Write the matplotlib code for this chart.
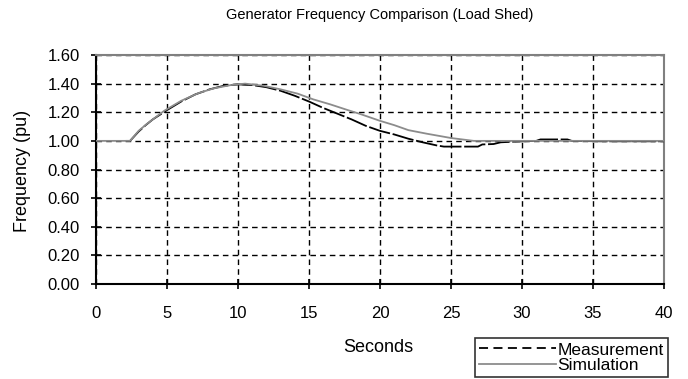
import numpy as np
import matplotlib
matplotlib.use("Agg")
import matplotlib.pyplot as plt

plt.rcParams['font.family'] = ['Liberation Sans', 'DejaVu Sans']

# Simulation trace (grey)
t_sim = [0, 2.4, 3.0, 3.6, 4.8, 6.0, 7.2, 8.3, 9.5, 10.5, 11.8, 13.0, 14.2,
         15.3, 16.5, 17.7, 18.6, 20.0, 21.0, 22.0, 23.3, 25.0, 26.6, 28.0, 40.0]
f_sim = [1.0, 1.0, 1.07, 1.12, 1.21, 1.28, 1.333, 1.367, 1.39, 1.40, 1.385, 1.36, 1.33,
         1.29, 1.255, 1.216, 1.188, 1.14, 1.11, 1.075, 1.05, 1.02, 1.0, 1.0, 1.0]

# Measurement trace (black)
t_meas = [2.1, 2.4, 3.0, 3.5, 4.0, 5.0, 6.0, 7.0, 8.0, 9.0, 10.0, 11.0, 12.0,
          13.0, 14.0, 15.0, 16.0, 17.0, 18.0, 19.0, 20.0, 21.0, 22.0, 23.0, 24.0,
          24.5, 26.9, 27.2, 28.0, 28.5, 29.5, 31.0, 31.3, 33.2, 33.5, 35.5, 40.0]
f_meas = [1.0, 1.0, 1.065, 1.11, 1.15, 1.215, 1.275, 1.325, 1.36, 1.385, 1.395, 1.39, 1.375,
          1.35, 1.315, 1.275, 1.23, 1.19, 1.15, 1.105, 1.07, 1.045, 1.015, 0.99, 0.968,
          0.96, 0.96, 0.975, 0.978, 0.99, 0.995, 1.0, 1.01, 1.01, 1.0, 0.997, 0.997]

x_ticks = np.arange(0, 41, 5)
y_ticks = np.arange(0, 1.61, 0.2)

fig = plt.figure(figsize=(6.88, 3.79), dpi=100)
ax = fig.add_axes([96/688, 1 - 284/379, (664 - 96)/688, (284 - 55)/379])

ax.plot(t_meas, f_meas, color='black', lw=1.3, linestyle=(0, (12, 1.5)),
        label='Measurement', zorder=3)
ax.plot(t_sim, f_sim, color='#8c8c8c', lw=1.3, label='Simulation', zorder=4)

ax.set_xlim(0, 40)
ax.set_ylim(0, 1.6)
ax.set_xticks(x_ticks)
ax.set_yticks(y_ticks)
ax.set_yticklabels(['%.2f' % v for v in y_ticks])
ax.grid(True, color='black', linestyle=(0, (4, 3)), lw=1.0)
ax.tick_params(direction='inout', length=7, width=1.2, labelsize=12, colors='black')
ax.tick_params(axis='y', pad=8)
ax.tick_params(axis='x', pad=12)

ax.spines['left'].set_linewidth(1.5)
ax.spines['bottom'].set_linewidth(1.5)
for s in ['top', 'right']:
    ax.spines[s].set_color('#808080')
    ax.spines[s].set_linewidth(1.5)

fig.text(380/688, 1 - 15/379, 'Generator Frequency Comparison (Load Shed)',
         ha='center', va='center', fontsize=10.5)
fig.text(378/688, 1 - 347/379, 'Seconds', ha='center', va='center', fontsize=13)
fig.text(23/688, 1 - 171/379, 'Frequency (pu)', ha='center', va='center',
         rotation=90, fontsize=13)

h, l = ax.get_legend_handles_labels()
leg = fig.legend(h, l, loc='lower right',
                 bbox_to_anchor=(668/688, 1 - 377/379), fontsize=12.5,
                 frameon=True, fancybox=False, borderpad=0.25, labelspacing=0.0,
                 handlelength=4.4, handletextpad=0.1, borderaxespad=0)
leg.get_frame().set_edgecolor('black')
leg.get_frame().set_linewidth(1.2)
leg.get_lines()[0].set_linestyle((0, (5, 3)))

fig.savefig('out.png', dpi=100)
